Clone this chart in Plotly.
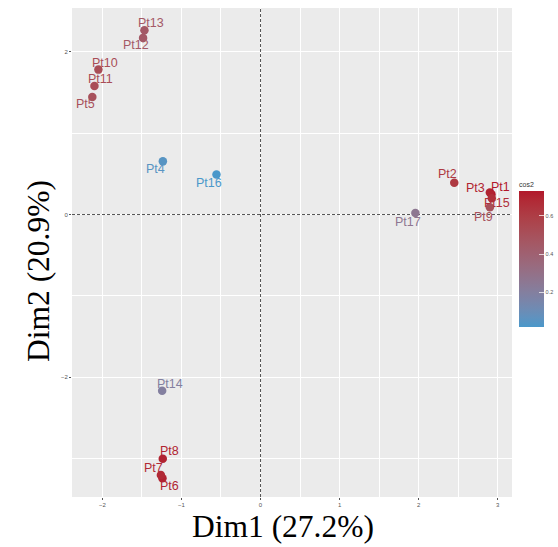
import plotly.graph_objects as go

# ---- data ----
labels = ["Pt1", "Pt2", "Pt3", "Pt4", "Pt5", "Pt6", "Pt7", "Pt8", "Pt9", "Pt10",
          "Pt11", "Pt12", "Pt13", "Pt14", "Pt15", "Pt16", "Pt17"]
dim1 = [2.92, 2.45, 2.90, -1.235, -2.127, -1.24, -1.26, -1.236, 2.90, -2.05,
        -2.10, -1.485, -1.468, -1.244, 2.924, -0.557, 1.958]
dim2 = [0.25, 0.39, 0.27, 0.653, 1.445, -3.24, -3.20, -3.00, 0.09, 1.78,
        1.58, 2.17, 2.264, -2.166, 0.20, 0.493, 0.02]
cos2 = [0.73, 0.62, 0.70, 0.05, 0.50, 0.70, 0.68, 0.70, 0.50, 0.52,
        0.52, 0.45, 0.45, 0.20, 0.66, 0.02, 0.26]
# label pixel offsets (repel-like placement)
lab_dx = [9, -7, -14, -7, -7, 7, -7, 7, -6, 7, 6.5, -7, 7, 7.5, 5.5, -7, -7.5]
lab_dy = [-7, -8.5, -5, 7.7, 7.3, 7.3, -6.7, -7.7, 9.4, -7, -7.4, 7, -7, -7, 4.4, 8.4, 8.7]

x_title = "Dim1 (27.2%)"
y_title = "Dim2 (20.9%)"
cmin, cmax = 0.02, 0.73
cb_ticks = [0.2, 0.4, 0.6]
x_range = [-2.384, 3.18]
y_range = [-3.47, 2.537]

LOW, HIGH = "#4A98CA", "#B2182B"


# ---- Lab interpolated colour scale (like ggplot's gradient) ----
def hex2rgb(h):
    h = h.lstrip("#")
    return [int(h[i:i + 2], 16) / 255 for i in (0, 2, 4)]


def rgb2lab(rgb):
    def lin(c):
        return c / 12.92 if c <= 0.04045 else ((c + 0.055) / 1.055) ** 2.4
    r, g, b = [lin(c) for c in rgb]
    X = (0.4124 * r + 0.3576 * g + 0.1805 * b) / 0.95047
    Y = (0.2126 * r + 0.7152 * g + 0.0722 * b)
    Z = (0.0193 * r + 0.1192 * g + 0.9505 * b) / 1.08883

    def f(t):
        return t ** (1 / 3) if t > 0.008856 else 7.787 * t + 16 / 116
    fx, fy, fz = f(X), f(Y), f(Z)
    return [116 * fy - 16, 500 * (fx - fy), 200 * (fy - fz)]


def lab2rgb(lab):
    L, a, b = lab
    fy = (L + 16) / 116
    fx = fy + a / 500
    fz = fy - b / 200

    def finv(t):
        return t ** 3 if t ** 3 > 0.008856 else (t - 16 / 116) / 7.787
    X, Y, Z = finv(fx) * 0.95047, finv(fy), finv(fz) * 1.08883
    r = 3.2406 * X - 1.5372 * Y - 0.4986 * Z
    g = -0.9689 * X + 1.8758 * Y + 0.0415 * Z
    bb = 0.0557 * X - 0.2040 * Y + 1.0570 * Z

    def gam(c):
        c = c * 12.92 if c <= 0.0031308 else 1.055 * c ** (1 / 2.4) - 0.055
        return max(0, min(1, c))
    return "rgb(%d,%d,%d)" % tuple(round(gam(c) * 255) for c in (r, g, bb))


lab_lo, lab_hi = rgb2lab(hex2rgb(LOW)), rgb2lab(hex2rgb(HIGH))


def col_at(t):
    t = max(0, min(1, t))
    return lab2rgb([lab_lo[i] + (lab_hi[i] - lab_lo[i]) * t for i in range(3)])


n = 16
colorscale = [[i / (n - 1), col_at(i / (n - 1))] for i in range(n)]
pt_colors = [col_at((c - cmin) / (cmax - cmin)) for c in cos2]

fig = go.Figure()
# dashed reference lines at the origin (drawn below the points, above the grid)
fig.add_trace(go.Scatter(x=[0, 0], y=y_range, mode="lines",
                         line=dict(color="#555", width=1, dash="3px,2px"),
                         hoverinfo="skip", showlegend=False))
fig.add_trace(go.Scatter(x=x_range, y=[0, 0], mode="lines",
                         line=dict(color="#555", width=1, dash="3px,2px"),
                         hoverinfo="skip", showlegend=False))

fig.add_trace(go.Scatter(
    x=dim1, y=dim2, mode="markers",
    marker=dict(size=8.5, color=cos2, colorscale=colorscale, cmin=cmin, cmax=cmax,
                showscale=True,
                colorbar=dict(
                    title=dict(text="cos2", font=dict(size=7, color="#333", family="Liberation Sans"),
                               side="top"),
                    thickness=25, len=148 / 489, lenmode="fraction",
                    x=(519 - 72) / 440, xanchor="left", y=(497 - 253) / 489, yanchor="middle",
                    xpad=0, ypad=0,
                    outlinewidth=0, tickvals=cb_ticks, ticks="inside", ticklen=5,
                    tickcolor="rgba(255,255,255,0.7)", tickwidth=1,
                    tickfont=dict(size=5.5, color="#555", family="Liberation Sans"),
                    ticklabelposition="outside")),
    hoverinfo="text", text=labels, showlegend=False))

annotations = []
for xi, yi, lb, c, dx, dy in zip(dim1, dim2, labels, pt_colors, lab_dx, lab_dy):
    annotations.append(dict(x=xi, y=yi, xref="x", yref="y", text=lb, showarrow=False,
                            xshift=dx, yshift=-dy,
                            font=dict(size=12.5, color=c, family="Liberation Sans")))

annotations.append(dict(x=(283 - 72) / 440, y=(497 - 546) / 489, xref="paper", yref="paper",
                        text=x_title, showarrow=False, xanchor="center", yanchor="bottom",
                        font=dict(size=31.5, color="black", family="Liberation Serif")))
annotations.append(dict(x=(39 - 72) / 440, y=(497 - 271) / 489, xref="paper", yref="paper",
                        text=y_title, showarrow=False, xanchor="center", yanchor="middle",
                        textangle=-90,
                        font=dict(size=31.5, color="black", family="Liberation Serif")))

fig.update_layout(
    width=558, height=547,
    margin=dict(l=72, r=46, t=8, b=50, autoexpand=False),
    paper_bgcolor="white", plot_bgcolor="#EBEBEB",
    annotations=annotations,
    xaxis=dict(range=x_range, dtick=1, tick0=0, showgrid=True, gridcolor="white",
               gridwidth=1, zeroline=False, ticks="outside", ticklen=2, tickcolor="#555",
               tickfont=dict(size=6, color="#555", family="Liberation Sans"),
               minor=dict(dtick=0.5, tick0=0, showgrid=True, gridcolor="white", gridwidth=0.5),
               showline=False),
    yaxis=dict(range=y_range, dtick=2, tick0=0, showgrid=True, gridcolor="white",
               gridwidth=1, zeroline=False, ticks="outside", ticklen=2, tickcolor="#555",
               tickfont=dict(size=6, color="#555", family="Liberation Sans"),
               minor=dict(dtick=1, tick0=0, showgrid=True, gridcolor="white", gridwidth=0.5),
               showline=False),
)

fig.write_html("out.html")
